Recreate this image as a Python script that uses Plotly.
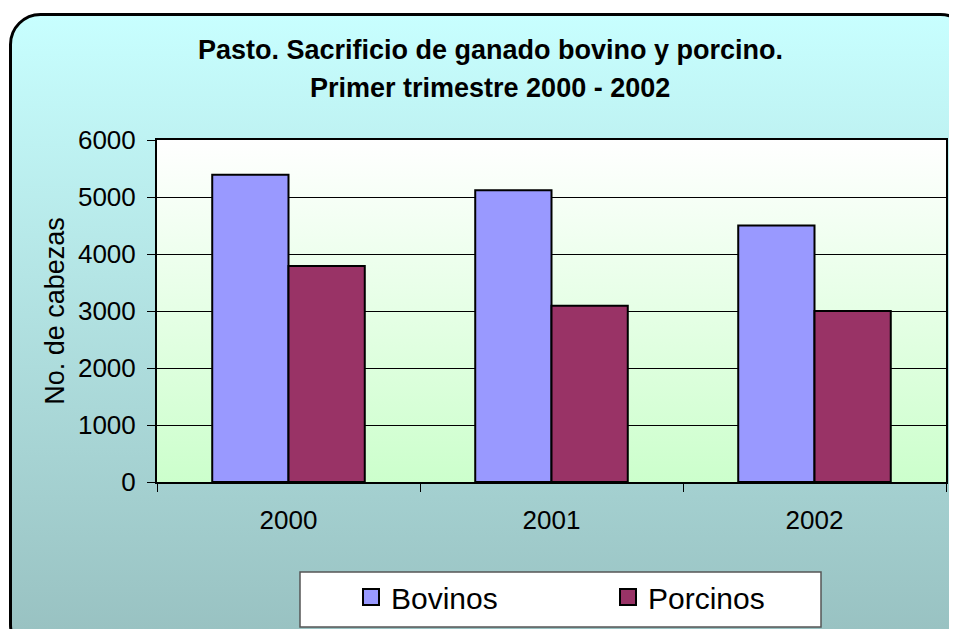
import base64
import plotly.graph_objects as go

# ---- data ----
years = ["2000", "2001", "2002"]
bovinos = [5390, 5120, 4500]
porcinos = [3790, 3090, 3000]
y_ticks = [0, 1000, 2000, 3000, 4000, 5000, 6000]
title_lines = ["Pasto. Sacrificio de ganado bovino y porcino.", "Primer trimestre 2000 - 2002"]
y_title = "No. de cabezas"
series_names = ["Bovinos", "Porcinos"]
series_colors = ["#9999FF", "#993366"]

W, H = 957, 629
OFF = 8  # default body margin of the html page
# plot area in page pixels
PX0, PX1, PY0, PY1 = 157, 946, 140, 482
L = PX0 - OFF
T = PY0 - OFF
R = W - (PX1 - OFF)
B = H - (PY1 - OFF)
PW = W - L - R
PH = H - T - B


def px_x(p):
    return (p - PX0) / PW


def px_y(p):
    return (PY1 - p) / PH


def svg_uri(svg):
    return "data:image/svg+xml;base64," + base64.b64encode(svg.encode()).decode()


# outer rounded frame, clipped at the visible window edge
OX, OY = 9, 13
OW, OH = W - OX, H - OY
outer_svg = (
    '<svg xmlns="http://www.w3.org/2000/svg" width="%d" height="%d" viewBox="0 0 %d %d" preserveAspectRatio="none">'
    '<defs><linearGradient id="g" gradientUnits="userSpaceOnUse" x1="0" y1="0" x2="0" y2="616">'
    '<stop offset="0" stop-color="#C8FFFF"/><stop offset="1" stop-color="#99C2C2"/>'
    '</linearGradient></defs>'
    '<rect x="1.5" y="1.5" width="960" height="640" rx="30" ry="30" fill="url(#g)" stroke="#000" stroke-width="3"/>'
    '</svg>'
) % (OW, OH, OW, OH)
plot_svg = (
    '<svg xmlns="http://www.w3.org/2000/svg" width="789" height="342" viewBox="0 0 789 342" preserveAspectRatio="none">'
    '<defs><linearGradient id="p" x1="0" y1="0" x2="0" y2="1">'
    '<stop offset="0" stop-color="#FFFFFF"/><stop offset="1" stop-color="#CCFFCC"/>'
    '</linearGradient></defs>'
    '<rect x="0" y="0" width="789" height="342" fill="url(#p)"/>'
    '</svg>'
)

FONT = "Liberation Sans, Arial, sans-serif"

fig = go.Figure()
fig.add_trace(go.Bar(x=years, y=bovinos, name=series_names[0], showlegend=False,
                     marker=dict(color=series_colors[0], line=dict(color="black", width=2))))
fig.add_trace(go.Bar(x=years, y=porcinos, name=series_names[1], showlegend=False,
                     marker=dict(color=series_colors[1], line=dict(color="black", width=2))))
# legend entries
for n, c in zip(series_names, series_colors):
    fig.add_trace(go.Scatter(x=[None], y=[None], mode="markers", name=n,
                             marker=dict(symbol="square", size=20, color=c,
                                         line=dict(color="black", width=2))))

fig.update_layout(
    width=W, height=H, autosize=False,
    margin=dict(l=L, r=R, t=T, b=B, pad=0),
    paper_bgcolor="white",
    plot_bgcolor="rgba(0,0,0,0)",
    barmode="group", bargap=0.42, bargroupgap=0,
    font=dict(family=FONT, color="black"),
    showlegend=True,
    legend=dict(orientation="h", x=px_x(351), xanchor="left", y=px_y(597), yanchor="middle",
                bgcolor="rgba(0,0,0,0)", borderwidth=0,
                font=dict(size=30, family=FONT, color="black"),
                entrywidth=212, entrywidthmode="pixels", itemsizing="trace"),
    images=[
        dict(source=svg_uri(outer_svg), xref="paper", yref="paper",
             x=px_x(OX), y=px_y(OY), sizex=OW / PW, sizey=OH / PH,
             xanchor="left", yanchor="top", sizing="stretch", layer="below"),
        dict(source=svg_uri(plot_svg), xref="paper", yref="paper",
             x=0, y=1, sizex=1, sizey=1,
             xanchor="left", yanchor="top", sizing="stretch", layer="below"),
    ],
    shapes=[
        dict(type="rect", xref="paper", yref="paper",
             x0=px_x(300), x1=px_x(821), y0=px_y(627), y1=px_y(572),
             fillcolor="white", line=dict(color="#555555", width=1.5), layer="above"),
    ],
    annotations=[
        dict(text="<b>%s</b>" % title_lines[0], xref="paper", yref="paper",
             x=px_x(490), y=px_y(50), xanchor="center", yanchor="middle", showarrow=False,
             font=dict(size=27, family=FONT, color="black")),
        dict(text="<b>%s</b>" % title_lines[1], xref="paper", yref="paper",
             x=px_x(490), y=px_y(88), xanchor="center", yanchor="middle", showarrow=False,
             font=dict(size=27, family=FONT, color="black")),
    ],
)

fig.update_xaxes(type="category", showline=True, linecolor="black", linewidth=2, mirror=True,
                 ticks="outside", tickson="boundaries", ticklen=8, tickcolor="black", tickwidth=1,
                 showgrid=False, tickfont=dict(size=26, family=FONT, color="black"),
                 ticklabelstandoff=14)
fig.update_yaxes(range=[0, 6000], tickvals=y_ticks, showline=True, linecolor="black", linewidth=2,
                 mirror=True, ticks="outside", ticklen=8, tickcolor="black", tickwidth=1,
                 showgrid=True, gridcolor="black", gridwidth=1, zeroline=False,
                 tickfont=dict(size=26, family=FONT, color="black"), ticklabelstandoff=6,
                 title=dict(text=y_title, font=dict(size=27, family=FONT, color="black"), standoff=6))

fig.write_html("out.html", config={"displayModeBar": False},
               post_script="document.documentElement.style.overflow='hidden';")
